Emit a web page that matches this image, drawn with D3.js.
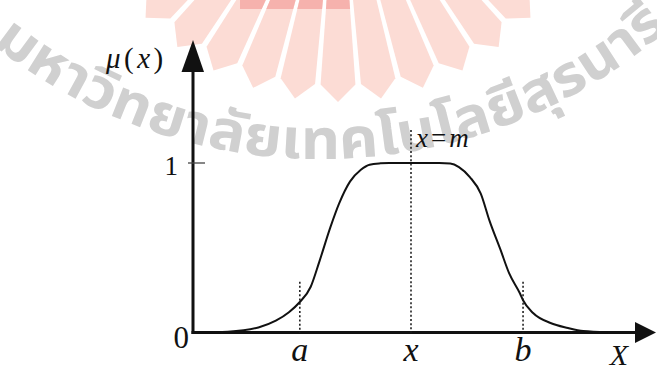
<!DOCTYPE html>
<html>
<head>
<meta charset="utf-8">
<script src="https://cdn.jsdelivr.net/npm/d3@7"></script>
<style>
  html, body { margin: 0; padding: 0; background: #fff; }
  svg { display: block; }
</style>
</head>
<body>
<svg id="chart" width="657" height="370"></svg>
<script>
// Generalized bell membership function, sampled along the universe X
const curveX  = [0.1, 0.8, 1.5, 1.9, 2.2, 2.45, 2.7, 2.9, 3.15, 3.35, 3.6, 3.85, 4.05, 4.3, 4.5,
                 5.0, 5.65, 5.9, 6.1, 6.35, 6.6, 6.8, 7.05, 7.25, 7.5, 7.57, 7.8, 8.2, 8.6, 8.95, 9.5];
const curveMu = [0.0, 0.005, 0.03, 0.07, 0.12, 0.18, 0.27, 0.42, 0.62, 0.76, 0.89, 0.96, 0.99, 0.998, 1.0,
                 1.0, 1.0, 0.997, 0.976, 0.917, 0.82, 0.66, 0.49, 0.35, 0.23, 0.19, 0.115, 0.056, 0.027, 0.009, 0.002];

// Marked points on X: crossover a, centre m, crossover b
const markNames  = ["a", "x", "b"];
const markValues = [2.45, 5.0, 7.57];
const centreLabel = ["x", "=", "m"];

// Membership ticks on the vertical axis
const muTicks = [0, 1];
const muTickLabels = ["0", "1"];

// Watermark text
const sealText = "มหาวิทยาลัยเทคโนโลยีสุรนารี";

const SERIF = '"Liberation Serif"';
const svg = d3.select("#chart");
const defs = svg.append("defs");

const x = d3.scaleLinear().domain([0, 10]).range([193, 629]);
const y = d3.scaleLinear().domain([0, 1]).range([332.5, 163]);

// ---------- watermark ----------
const wm = svg.append("g").attr("class", "watermark");
const sealC = [338, -160], sealR = 262, notch = 17;
const nRays = 11, spanDeg = 52, gapDeg = 1.3;
const rayW = 2 * spanDeg / nRays;
const rayAngles = d3.range(nRays).map(i => -spanDeg + i * rayW);
function pt(angDeg, r) {
  const a = angDeg * Math.PI / 180;
  return [sealC[0] - r * Math.sin(a), sealC[1] + r * Math.cos(a)];
}
function rayPoly(a0) {
  const a1 = a0 + gapDeg / 2, a2 = a0 + rayW - gapDeg / 2, am = (a1 + a2) / 2;
  return [pt(a1, 60), pt(a1, sealR - notch), pt(am, sealR), pt(a2, sealR - notch), pt(a2, 60)];
}
wm.append("g").selectAll("polygon").data(rayAngles).join("polygon")
  .attr("points", d => rayPoly(d).map(p => p.join(",")).join(" "))
  .attr("fill", "#fcdcd5");
defs.append("clipPath").attr("id", "sealTop")
  .append("rect").attr("x", 240).attr("y", 0).attr("width", 112).attr("height", 9);
wm.append("g").attr("clip-path", "url(#sealTop)")
  .selectAll("polygon").data(rayAngles).join("polygon")
  .attr("points", d => rayPoly(d).map(p => p.join(",")).join(" "))
  .attr("fill", "#f6b2ad");

const tc = [321, -369], tr = 528;
function tp(deg) { const a = deg * Math.PI / 180; return [tc[0] + tr * Math.cos(a), tc[1] + tr * Math.sin(a)]; }
const p0 = tp(128.5), p1 = tp(47.5);
defs.append("path").attr("id", "sealArc")
  .attr("d", `M${p0[0]},${p0[1]} A${tr},${tr} 0 0 0 ${p1[0]},${p1[1]}`);
wm.append("text")
  .style("font-family", '"Noto Sans Thai", "Noto Sans", sans-serif')
  .attr("font-size", 56).attr("font-weight", "bold").attr("fill", "#d0d0d0")
  .append("textPath").attr("href", "#sealArc")
  .attr("textLength", 735).attr("lengthAdjust", "spacingAndGlyphs")
  .text(sealText);

// ---------- axes ----------
const axis = svg.append("g");
const x0 = x(0), yBase = y(0);
axis.append("line").attr("x1", x0).attr("x2", x0).attr("y1", yBase + 1.5).attr("y2", 72)
  .attr("stroke", "#111").attr("stroke-width", 3);
axis.append("polygon")
  .attr("points", [[x0 - 11.5, 72], [x0 + 11, 72], [x0, 40]].map(p => p.join(",")).join(" "))
  .attr("fill", "#111");
axis.append("line").attr("x1", x0 - 1.5).attr("x2", 636).attr("y1", yBase).attr("y2", yBase)
  .attr("stroke", "#111").attr("stroke-width", 3);
axis.append("polygon")
  .attr("points", [[635, yBase - 10.5], [635, yBase + 10.5], [656, yBase]].map(p => p.join(",")).join(" "))
  .attr("fill", "#111");

// tick at membership 1
axis.append("line").attr("x1", x0 - 5).attr("x2", x0 + 12).attr("y1", y(1)).attr("y2", y(1))
  .attr("stroke", "#444").attr("stroke-width", 1.3);

axis.append("text").style("font-family", SERIF).attr("x", 178).attr("y", y(muTicks[1]) + 12)
  .attr("text-anchor", "end").attr("font-size", 27).attr("fill", "#111")
  .text(muTickLabels[1]);
axis.append("text").style("font-family", SERIF).attr("x", 189).attr("y", y(muTicks[0]) + 15.5)
  .attr("text-anchor", "end").attr("font-size", 31).attr("fill", "#111")
  .text(muTickLabels[0]);

// axis titles
const muT = axis.append("text").style("font-family", SERIF).attr("x", 106).attr("y", 68)
  .attr("font-size", 29).attr("fill", "#111").attr("letter-spacing", 3.5);
muT.append("tspan").attr("font-style", "italic").text("μ");
muT.append("tspan").text("(");
muT.append("tspan").attr("font-style", "italic").text("x");
muT.append("tspan").text(")");

axis.append("text").style("font-family", SERIF).attr("x", 619).attr("y", 365).attr("text-anchor", "middle")
  .attr("font-style", "italic").attr("font-size", 30).attr("fill", "#111")
  .text("X");

// ---------- guide lines at a, m, b ----------
const guideTop = [0.3, 1.195, 0.3];
svg.append("g").selectAll("line").data(markValues).join("line")
  .attr("x1", d => x(d)).attr("x2", d => x(d))
  .attr("y1", (d, i) => y(guideTop[i])).attr("y2", yBase)
  .attr("stroke", "#222").attr("stroke-width", 1.6).attr("stroke-dasharray", "2,2.2");

svg.append("g").selectAll("text").data(markValues).join("text").style("font-family", SERIF)
  .attr("x", d => x(d)).attr("y", 361).attr("text-anchor", "middle")
  .attr("font-style", "italic").attr("font-size", 34).attr("fill", "#111")
  .text((d, i) => markNames[i]);

const cT = svg.append("text").style("font-family", SERIF).attr("x", x(markValues[1]) + 5).attr("y", 147)
  .attr("font-size", 27).attr("fill", "#111").attr("letter-spacing", 3);
centreLabel.forEach(s => cT.append("tspan").attr("font-style", s === "=" ? "normal" : "italic").text(s));

// ---------- membership curve ----------
const pts = curveX.map((v, i) => [v, curveMu[i]]);
svg.append("path").datum(pts)
  .attr("fill", "none").attr("stroke", "#111").attr("stroke-width", 2)
  .attr("d", d3.line().x(d => x(d[0])).y(d => y(d[1])).curve(d3.curveMonotoneX));
</script>
</body>
</html>
